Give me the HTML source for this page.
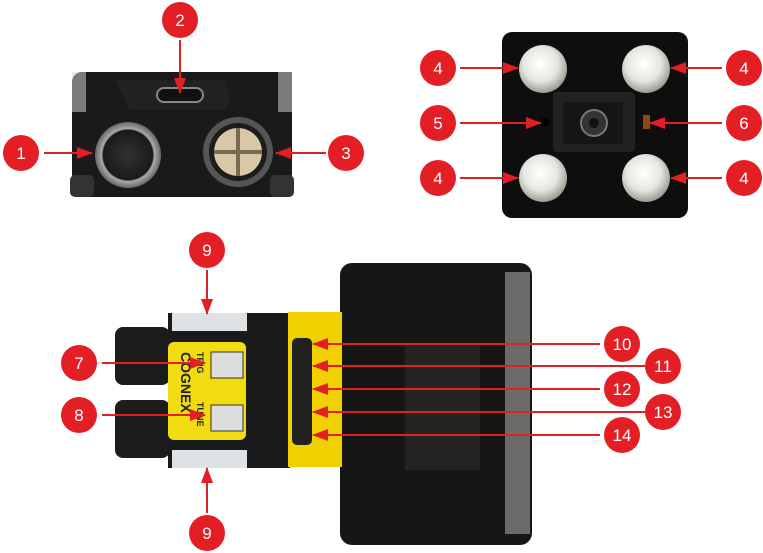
<!DOCTYPE html>
<html><head><meta charset="utf-8"><style>
html,body{margin:0;padding:0;background:#fff;}
svg{display:block;}
text{font-family:"Liberation Sans",sans-serif;}
</style></head><body>
<svg width="763" height="553" viewBox="0 0 763 553" xmlns="http://www.w3.org/2000/svg">
<defs>
<marker id="ah" markerWidth="16" markerHeight="12" refX="15" refY="6" orient="auto" markerUnits="userSpaceOnUse"><path d="M0,0 L16,6 L0,12 z" fill="#e31e24"/></marker>
<radialGradient id="led" cx="45%" cy="40%" r="60%"><stop offset="0" stop-color="#fff"/><stop offset="0.6" stop-color="#e6e6e0"/><stop offset="1" stop-color="#9a9a90"/></radialGradient>
<radialGradient id="con" cx="50%" cy="50%" r="50%"><stop offset="0" stop-color="#333"/><stop offset="0.75" stop-color="#1a1a1a"/><stop offset="0.8" stop-color="#aaa"/><stop offset="1" stop-color="#666"/></radialGradient>
</defs>

<!-- top-left connector panel -->
<rect x="72" y="72" width="220" height="125" rx="10" fill="#1a1a1a"/>
<path d="M100 72 L270 72 L292 95 L292 72 Z" fill="#1a1a1a"/>
<rect x="72" y="72" width="14" height="40" fill="#ddd" opacity="0.5"/>
<rect x="278" y="72" width="14" height="40" fill="#ddd" opacity="0.5"/>
<path d="M115 80 L225 80 L230 100 L225 110 L130 110 Z" fill="#222"/>
<rect x="157" y="88" width="46" height="14" rx="7" fill="#111" stroke="#888" stroke-width="2"/>
<circle cx="128" cy="155" r="33" fill="url(#con)"/>
<circle cx="238" cy="152" r="35" fill="#555"/>
<circle cx="238" cy="152" r="29" fill="#1c1c1c"/>
<circle cx="238" cy="152" r="24" fill="#d8c8a8"/>
<path d="M236 128 h4 v48 h-4z M214 150 h48 v4 h-48z" fill="#7a6a50"/>
<rect x="70" y="175" width="24" height="22" rx="5" fill="#333"/>
<rect x="270" y="175" width="24" height="22" rx="5" fill="#333"/>

<!-- top-right device -->
<rect x="502" y="32" width="186" height="186" rx="10" fill="#0e0e0e"/>
<rect x="553" y="92" width="82" height="60" rx="4" fill="#222"/>
<rect x="563" y="102" width="60" height="42" fill="#151515"/>
<circle cx="594" cy="123" r="13" fill="#333" stroke="#777" stroke-width="2"/>
<circle cx="594" cy="123" r="5" fill="#111"/>
<circle cx="543" cy="69" r="24" fill="url(#led)"/>
<circle cx="646" cy="69" r="24" fill="url(#led)"/>
<circle cx="543" cy="178" r="24" fill="url(#led)"/>
<circle cx="646" cy="178" r="24" fill="url(#led)"/>
<circle cx="545" cy="122" r="4" fill="#000"/>
<rect x="643" y="115" width="7" height="14" fill="#8a4a18"/>

<!-- bottom device -->
<rect x="340" y="263" width="192" height="282" rx="12" fill="#161616"/>
<rect x="505" y="272" width="25" height="262" fill="#6a6a6a"/>
<rect x="405" y="345" width="75" height="125" fill="#232323"/>
<rect x="115" y="327" width="55" height="58" rx="8" fill="#1c1c1c"/>
<rect x="115" y="400" width="55" height="58" rx="8" fill="#1c1c1c"/>
<rect x="168" y="313" width="122" height="155" fill="#1a1a1a"/>
<rect x="172" y="313" width="75" height="18" fill="#dde2e6"/>
<rect x="172" y="450" width="75" height="18" fill="#dde2e6"/>
<rect x="168" y="342" width="78" height="98" rx="6" fill="#f0dc10"/>
<rect x="288" y="312" width="54" height="155" fill="#f0d000"/>
<rect x="292" y="338" width="20" height="107" rx="5" fill="#222"/>
<rect x="211" y="352" width="32" height="26" fill="#ddd" stroke="#333"/>
<rect x="211" y="405" width="32" height="26" fill="#ddd" stroke="#333"/>
<text transform="translate(197,352) rotate(90)" font-size="9" font-weight="bold" fill="#222">TRIG</text>
<text transform="translate(181,352) rotate(90)" font-size="14" font-weight="bold" fill="#222">COGNEX</text>
<text transform="translate(197,402) rotate(90)" font-size="9" font-weight="bold" fill="#222">TUNE</text>

<!-- arrows -->
<g stroke="#e31e24" stroke-width="2" fill="none" marker-end="url(#ah)">
<line x1="44" y1="153" x2="92" y2="153"/>
<line x1="180" y1="40" x2="180" y2="93"/>
<line x1="326" y1="153" x2="276" y2="153"/>
<line x1="460" y1="68" x2="518" y2="68"/>
<line x1="722" y1="68" x2="671" y2="68"/>
<line x1="460" y1="123" x2="541" y2="123"/>
<line x1="722" y1="123" x2="650" y2="123"/>
<line x1="460" y1="178" x2="518" y2="178"/>
<line x1="722" y1="178" x2="671" y2="178"/>
<line x1="102" y1="363" x2="205" y2="363"/>
<line x1="102" y1="415" x2="205" y2="415"/>
<line x1="207" y1="270" x2="207" y2="314"/>
<line x1="207" y1="513" x2="207" y2="468"/>
<line x1="600" y1="344" x2="313" y2="344"/>
<line x1="645" y1="366" x2="313" y2="366"/>
<line x1="600" y1="389" x2="313" y2="389"/>
<line x1="645" y1="412" x2="313" y2="412"/>
<line x1="600" y1="435" x2="313" y2="435"/>
</g>

<!-- callout circles -->
<g fill="#e31e24">
<circle cx="21" cy="153" r="18"/><circle cx="180" cy="20" r="18"/><circle cx="346" cy="153" r="18"/>
<circle cx="438" cy="68" r="18"/><circle cx="744" cy="68" r="18"/><circle cx="438" cy="123" r="18"/>
<circle cx="744" cy="123" r="18"/><circle cx="438" cy="178" r="18"/><circle cx="744" cy="178" r="18"/>
<circle cx="79" cy="363" r="18"/><circle cx="79" cy="415" r="18"/>
<circle cx="207" cy="250" r="18"/><circle cx="207" cy="533" r="18"/>
<circle cx="622" cy="344" r="18"/><circle cx="663" cy="366" r="18"/><circle cx="622" cy="389" r="18"/>
<circle cx="663" cy="412" r="18"/><circle cx="622" cy="435" r="18"/>
</g>
<g fill="#fff" font-size="17" text-anchor="middle">
<text x="21" y="159">1</text><text x="180" y="26">2</text><text x="346" y="159">3</text>
<text x="438" y="74">4</text><text x="744" y="74">4</text><text x="438" y="129">5</text>
<text x="744" y="129">6</text><text x="438" y="184">4</text><text x="744" y="184">4</text>
<text x="79" y="369">7</text><text x="79" y="421">8</text>
<text x="207" y="256">9</text><text x="207" y="539">9</text>
<text x="622" y="350">10</text><text x="663" y="372">11</text><text x="622" y="395">12</text>
<text x="663" y="418">13</text><text x="622" y="441">14</text>
</g>
</svg>
</body></html>
